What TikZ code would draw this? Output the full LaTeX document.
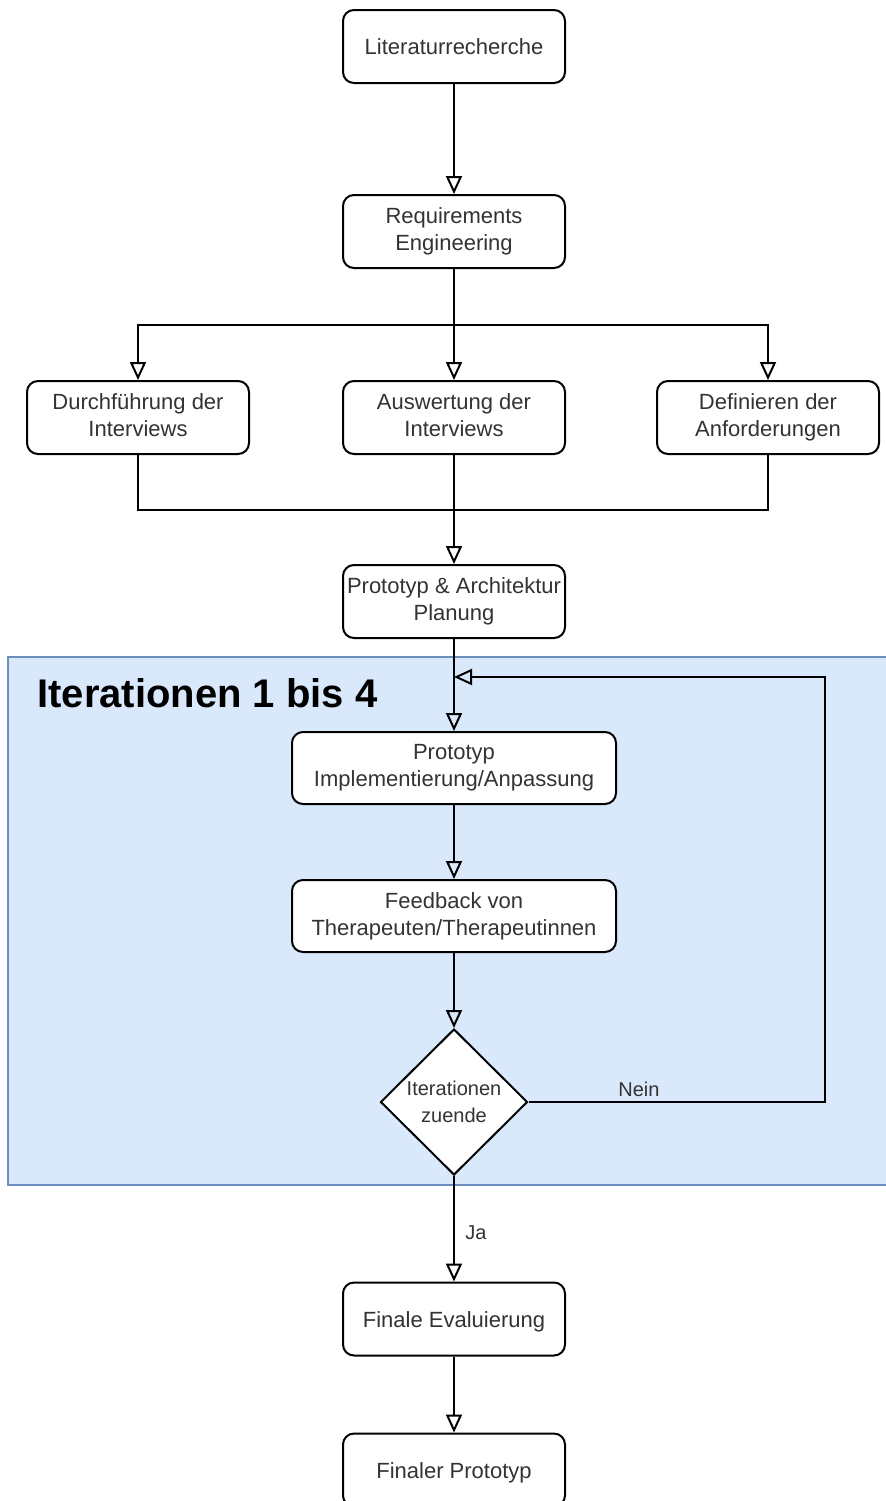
\documentclass[tikz,border=0pt]{standalone}
\usepackage{fontspec}
\setmainfont{Liberation Sans}
\usetikzlibrary{shapes.geometric,arrows.meta}
\definecolor{groupfill}{HTML}{DAE8FC}
\definecolor{groupline}{HTML}{6C8EBF}
\definecolor{txt}{HTML}{333333}
\newcommand{\topstrut}{\rule{0pt}{10.5pt}}
\newcommand{\botstrut}{\rule[-2.4pt]{0pt}{2.4pt}}
\tikzset{
  stepbox/.style={draw=black, line width=1pt, rounded corners=5.5pt, fill=white,
    minimum width=111pt, minimum height=36.5pt, inner sep=1pt, align=center,
    text=txt, font=\fontsize{11}{13.5}\selectfont,
    execute at begin node={\topstrut}, execute at end node={\botstrut}},
  widebox/.style={stepbox, minimum width=162pt, minimum height=36pt},
  decision/.style={draw=black, line width=1pt, diamond, fill=white, aspect=1,
    minimum width=73.5pt, minimum height=73pt, inner sep=0pt, align=center,
    text=txt, font=\fontsize{10}{13.5}\selectfont},
  flow/.style={draw=black, line width=1pt, -{Triangle[open,length=9pt,width=8pt]}},
  line/.style={draw=black, line width=1pt},
  lbl/.style={text=txt, font=\fontsize{10}{12}\selectfont, inner sep=0pt}
}
\begin{document}
\begin{tikzpicture}[x=0.5pt,y=-0.5pt]
\useasboundingbox (0,0) rectangle (886,1501);
\clip (0,0) rectangle (886,1501);
\fill[white] (0,0) rectangle (886,1501);

% iteration group
\draw[fill=groupfill, draw=groupline, line width=0.6pt] (8,657) rectangle (890,1185);
\node[anchor=base west, inner sep=0pt, font=\fontsize{20}{24}\selectfont\bfseries] (title) at (37,707) {Iterationen 1 bis 4};

% process steps
\node[stepbox] (lit) at (454,46.5) {Literaturrecherche};
\node[stepbox] (req) at (454,231.5) {Requirements\\Engineering};
\node[stepbox] (dur) at (138,417.5) {Durchführung der\\Interviews};
\node[stepbox] (aus) at (454,417.5) {Auswertung der\\Interviews};
\node[stepbox] (def) at (768,417.5) {Definieren der\\Anforderungen};
\node[stepbox] (arch) at (454,601.5) {Prototyp \& Architektur\\Planung};
\node[widebox] (impl) at (454,768) {Prototyp\\Implementierung/Anpassung};
\node[widebox] (feed) at (454,916) {Feedback von\\Therapeuten/Therapeutinnen};
\node[decision] (dec) at (454,1102) {Iterationen\\zuende};
\node[stepbox] (eval) at (454,1319) {Finale Evaluierung};
\node[stepbox] (final) at (454,1470) {Finaler Prototyp};

% helper points for routed connectors
\coordinate (fan) at (454,325);
\coordinate (join) at (454,510);
\coordinate (merge) at (454,677);
\coordinate (loopR) at (825,1102);
\coordinate (loopT) at (825,677);

% connectors
\draw[flow] (lit) -- (req);
\draw[flow] (req) -- (aus);
\draw[flow] (fan) -| (dur.north);
\draw[flow] (fan) -| (def.north);
\draw[flow] (aus) -- (arch);
\draw[line] (dur.south) |- (join);
\draw[line] (def.south) |- (join);
\draw[flow] (arch) -- (impl);
\draw[flow] (impl) -- (feed);
\draw[flow] (feed) -- (dec);
\draw[flow] (dec.east) -- (loopR) -- (loopT) -- (merge);
\draw[flow] (dec.south) -- (eval);
\draw[flow] (eval) -- (final);

% branch labels
\node[lbl] (nein) at (639,1089) {Nein};
\node[lbl] (ja) at (476,1233) {Ja};
\end{tikzpicture}
\end{document}
